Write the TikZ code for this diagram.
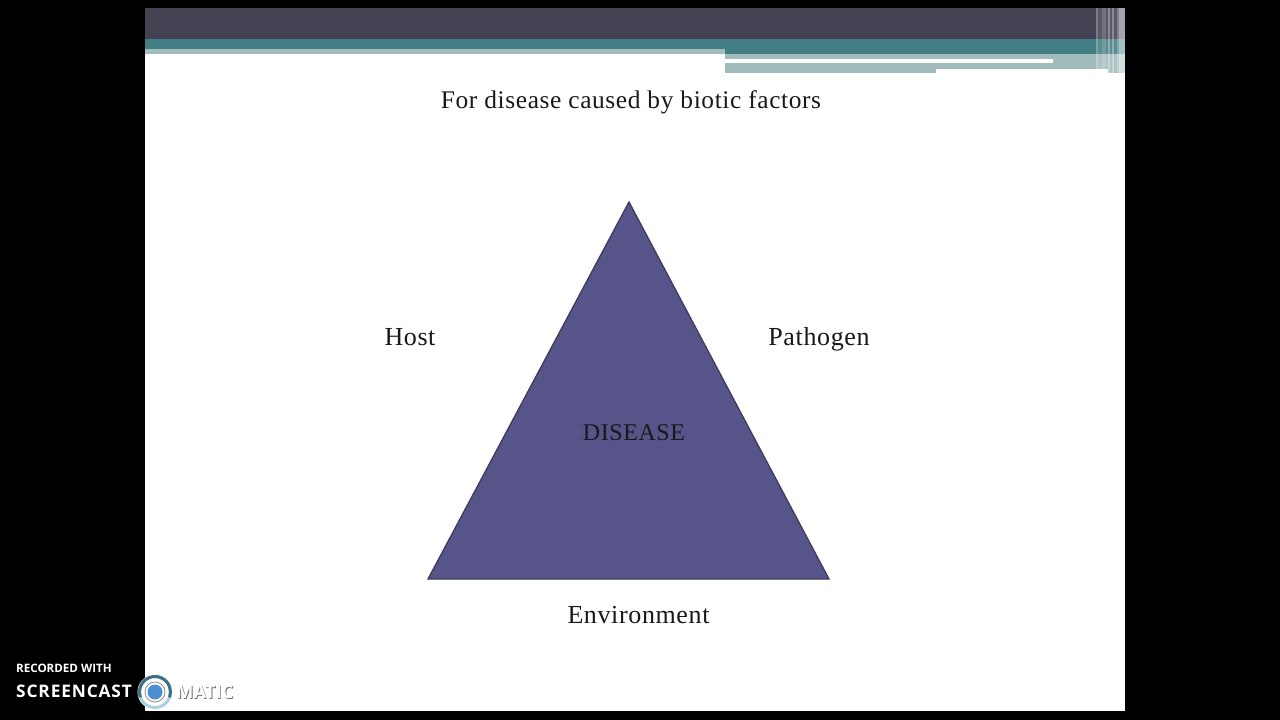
\documentclass[tikz,border=0pt]{standalone}
\usepackage{fontspec}
\setmainfont{Liberation Serif}
\newfontfamily\logofont{Open Sans}
\definecolor{bardark}{HTML}{434152}
\definecolor{barteal}{HTML}{437E84}
\definecolor{barpale}{HTML}{A2BCBE}
\definecolor{trifill}{HTML}{57548A}
\definecolor{triline}{HTML}{3D3C5E}
\definecolor{ringdark}{HTML}{3F6F86}
\definecolor{ringlight}{HTML}{A9CFE0}
\definecolor{logodot}{HTML}{4A90D0}
\tikzset{
  x=1pt,y=-1pt,
  band/.style={fill=#1,draw=none},
  label/.style={font=\fontsize{#1}{28}\selectfont,text=black!90,inner sep=0pt,anchor=base},
  logotext/.style={font=\logofont\bfseries\fontsize{#1}{#1}\selectfont,text=white,inner sep=0pt,anchor=west}
}
\begin{document}
\begin{tikzpicture}
\useasboundingbox (0,0) rectangle (1280,720);
\fill[black] (0,0) rectangle (1280,720);
\fill[white] (145,8) rectangle (1125,711);
% header bands
\fill[band=bardark] (145,8) rectangle (1125,39);
\fill[band=barteal] (145,39) rectangle (1125,54);
\fill[band=barpale] (145,49) rectangle (725,54);
\fill[band=barpale] (725,54) rectangle (1125,73);
\fill[band=white] (725,59) rectangle (1053,62.5);
\fill[band=white] (936,69) rectangle (1108,73);
% stripes at the right
\fill[white,opacity=.12] (1096,8) rectangle (1125,73);
\foreach \xa/\xb/\op in {1096/1098/.2,1102/1106/.15,1108/1110/.3,1112/1114/.3,1117/1119/.25,1119/1125/.45}
  \fill[white,opacity=\op] (\xa,8) rectangle (\xb,73);
% texts and triangle
\node[label=25.4] (title) at (631,108) {\addfontfeature{LetterSpace=2.4}For disease caused by biotic factors};
\coordinate (apex) at (629,202);
\coordinate (left) at (428,579);
\coordinate (right) at (829,579);
\draw[fill=trifill,draw=triline,line width=1.3pt,line join=miter] (apex) -- (right) -- (left) -- cycle;
\node[label=24] (disease) at (634,440) {\addfontfeature{LetterSpace=2.4}DISEASE};
\node[label=26] (host) at (410,345) {\addfontfeature{LetterSpace=2.4}Host};
\node[label=26] (pathogen) at (819,345) {\addfontfeature{LetterSpace=2.4}Pathogen};
\node[label=26] (environment) at (638.5,623) {\addfontfeature{LetterSpace=2.4}Environment};
% screencast logo
\node[logotext=11.6] (rec) at (16,668) {RECORDED WITH};
\node[logotext=17.3] (sc) at (16,691) {\addfontfeature{LetterSpace=5}SCREENCAST};
\fill[white] (155,692) circle (17.5);
\draw[ringlight,line width=3pt] (155,692) circle (15.5);
\draw[ringdark,line width=3pt] (155,692) ++(160:15.5) arc[start angle=160,end angle=380,radius=15.5];
\draw[black!45,line width=.8pt] (155,692) circle (10);
\fill[logodot] (155,692) circle (7.5);
\node[logotext=18.4,text=black!55] (maticb) at (176.8,692.8) {MATIC};
\node[logotext=18.4] (matic) at (176,692) {MATIC};
\end{tikzpicture}
\end{document}
